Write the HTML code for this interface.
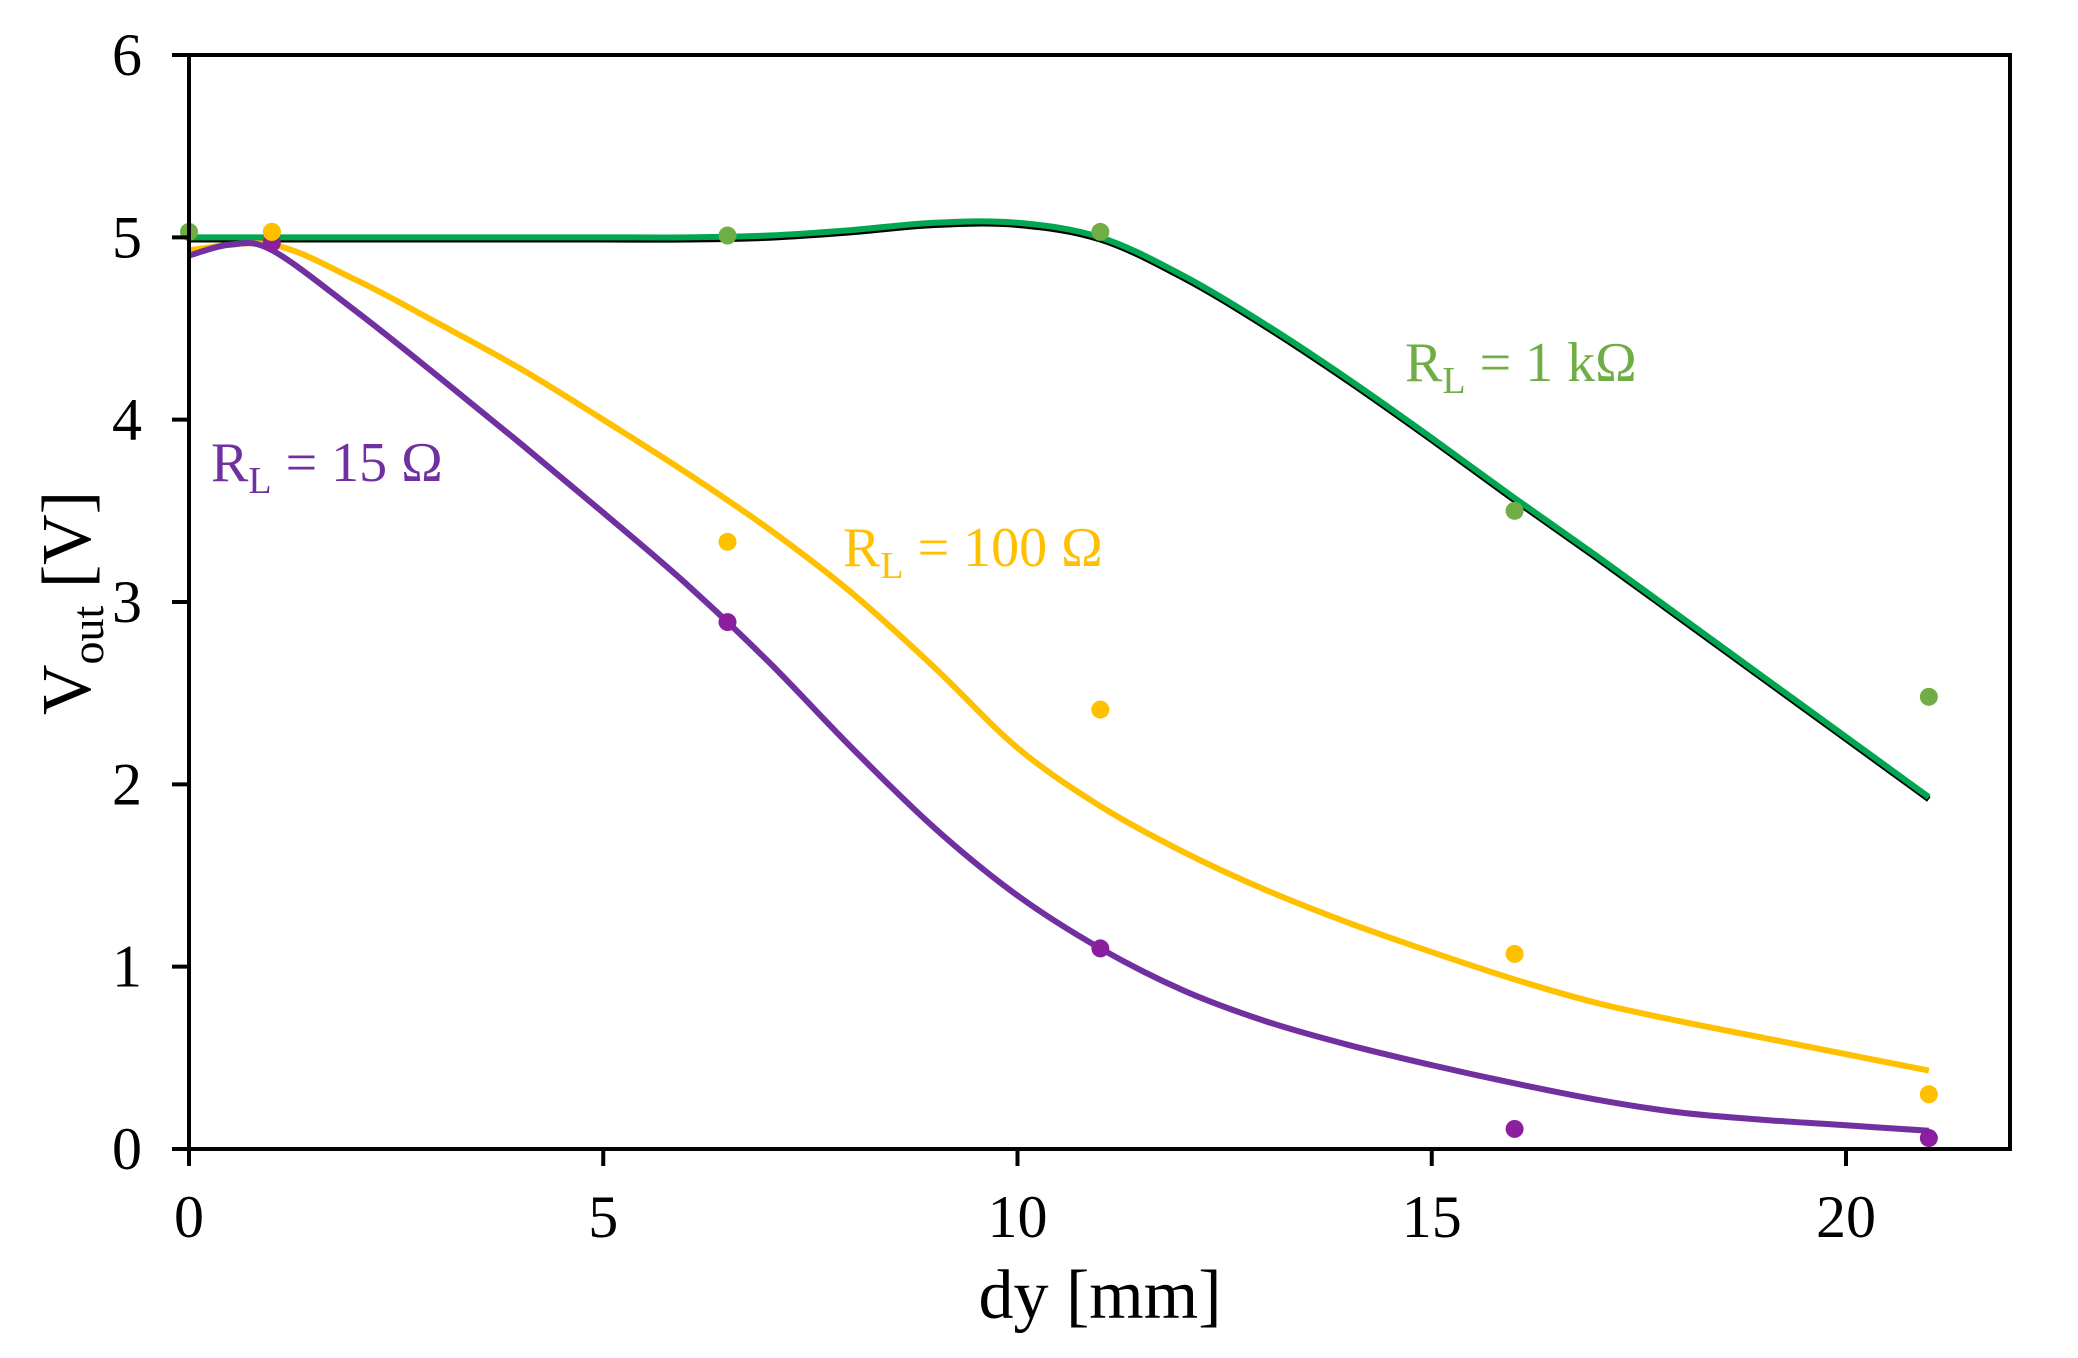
<!DOCTYPE html>
<html><head><meta charset="utf-8"><style>
html,body{margin:0;padding:0;background:#fff;}
svg{display:block;font-family:"Liberation Serif",serif;}
</style></head><body>
<svg id="s" width="2078" height="1358" viewBox="0 0 2078 1358" xmlns="http://www.w3.org/2000/svg">
<rect width="2078" height="1358" fill="#fff"/>
<g id="curves"></g>
<g id="pts"></g>
<rect x="189" y="55" width="1821" height="1094" fill="none" stroke="#000" stroke-width="4"/>
<g stroke="#000" stroke-width="4" id="ticks"></g>
<g font-size="60" fill="#000" id="labels"></g>
<text x="1100" y="1318" font-size="70" text-anchor="middle">dy [mm]</text>
<text transform="translate(90,603) rotate(-90)" font-size="70" text-anchor="middle">V<tspan font-size="46" dy="13">out</tspan><tspan dy="-13"> [V]</tspan></text>
<text x="1405" y="381" font-size="56" fill="#70AD47">R<tspan font-size="38" dy="12">L</tspan><tspan dy="-12"> = 1 kΩ</tspan></text>
<text x="211" y="481" font-size="56" fill="#7030A0">R<tspan font-size="38" dy="12">L</tspan><tspan dy="-12"> = 15 Ω</tspan></text>
<text x="843" y="566" font-size="56" fill="#FFC000">R<tspan font-size="38" dy="12">L</tspan><tspan dy="-12"> = 100 Ω</tspan></text>
</svg>
<script>
const X=x=>189+82.85*x, Y=v=>1149-182.33*v;
const NS="http://www.w3.org/2000/svg";
function path(pts){
 const p=pts.map(a=>[X(a[0]),Y(a[1])]);
 let d="M"+p[0][0]+","+p[0][1];
 for(let i=0;i<p.length-1;i++){
  const p0=p[i-1]||p[i],p1=p[i],p2=p[i+1],p3=p[i+2]||p[i+1];
  const c1=[p1[0]+(p2[0]-p0[0])/6,p1[1]+(p2[1]-p0[1])/6];
  const c2=[p2[0]-(p3[0]-p1[0])/6,p2[1]-(p3[1]-p1[1])/6];
  d+=` C${c1[0]},${c1[1]} ${c2[0]},${c2[1]} ${p2[0]},${p2[1]}`;
 }
 return d;
}
function add(g,tag,attrs){const e=document.createElementNS(NS,tag);for(const k in attrs)e.setAttribute(k,attrs[k]);document.getElementById(g).appendChild(e);return e;}
const green=[[0,5],[1,5],[2,5],[3,5],[4,5],[5,5],[6,5],[7,5.01],[8,5.04],[9,5.08],[10,5.08],[11,5.0],[12,4.79],[13,4.52],[14,4.22],[15,3.9],[16,3.57],[17,3.25],[18,2.92],[19,2.59],[20,2.26],[21,1.93]];
const yellow=[[0,4.93],[1,4.96],[2,4.77],[3,4.53],[4,4.28],[5,4.0],[6,3.71],[7,3.4],[8,3.05],[9,2.64],[10,2.2],[11,1.88],[12,1.63],[13,1.42],[14,1.24],[15,1.08],[16,0.93],[17,0.8],[18,0.7],[19,0.61],[20,0.52],[21,0.43]];
const purple=[[0,4.9],[0.5,4.96],[1,4.93],[2,4.6],[3,4.24],[4,3.87],[5,3.49],[6,3.1],[7,2.67],[8,2.2],[9,1.76],[10,1.39],[11,1.1],[12,0.87],[13,0.7],[14,0.57],[15,0.46],[16,0.36],[17,0.27],[18,0.2],[19,0.16],[20,0.13],[21,0.1]];
add("curves","path",{d:path(green.map(a=>[a[0],a[1]-0.012])),stroke:"#000",fill:"none","stroke-width":6});
add("curves","path",{d:path(green),stroke:"#00A650",fill:"none","stroke-width":6});
add("curves","path",{d:path(yellow),stroke:"#FFC000",fill:"none","stroke-width":6});
add("curves","path",{d:path(purple),stroke:"#7030A0",fill:"none","stroke-width":6});
const gp=[[0,5.03],[1,5.03],[6.5,5.01],[11,5.03],[16,3.5],[21,2.48]];
const yp=[[1,5.03],[6.5,3.33],[11,2.41],[16,1.07],[21,0.3]];
const pp=[[1,4.97],[6.5,2.89],[11,1.1],[16,0.11],[21,0.06]];
pp.forEach(a=>add("pts","circle",{cx:X(a[0]),cy:Y(a[1]),r:9,fill:"#8B1FA0"}));
gp.forEach(a=>add("pts","circle",{cx:X(a[0]),cy:Y(a[1]),r:9,fill:"#70AD47"}));
yp.forEach(a=>add("pts","circle",{cx:X(a[0]),cy:Y(a[1]),r:9,fill:"#FFC000"}));
for(let v=0;v<=6;v++){add("ticks","line",{x1:172,x2:189,y1:Y(v),y2:Y(v)});
 const t=add("labels","text",{x:142,y:Y(v)+20,"text-anchor":"end"});t.textContent=v;}
for(let x=0;x<=20;x+=5){add("ticks","line",{x1:X(x),x2:X(x),y1:1149,y2:1166});
 const t=add("labels","text",{x:X(x),y:1237,"text-anchor":"middle"});t.textContent=x;}
</script>
</body></html>
